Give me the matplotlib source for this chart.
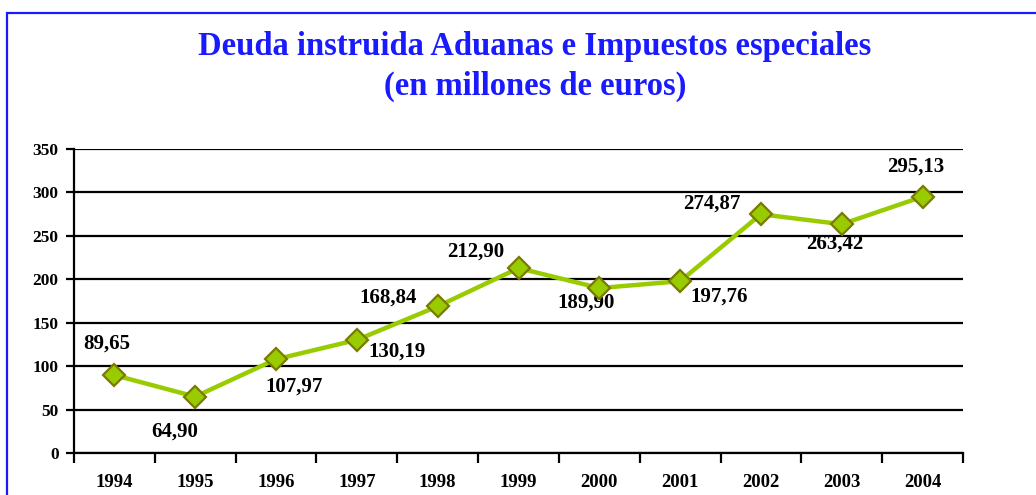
import matplotlib.pyplot as plt
from matplotlib.patches import Rectangle

years = ['1994', '1995', '1996', '1997', '1998', '1999', '2000', '2001', '2002', '2003', '2004']
deuda = [89.65, 64.90, 107.97, 130.19, 168.84, 212.90, 189.90, 197.76, 274.87, 263.42, 295.13]
# label offsets in pixels (dx, dy) relative to each point
offsets = [(-8, 32), (-21, -35), (18, -27), (40, -12), (-50, 9), (-43, 16),
           (-13, -15), (39, -15), (-49, 11), (-7, -19), (-7, 30)]

plt.rcParams['font.family'] = 'Liberation Serif'
plt.rcParams['font.weight'] = 'bold'

fig = plt.figure(figsize=(10.36, 4.95), dpi=100)
fig.patches.append(Rectangle((7 / 1036, -0.1), 1.2, (482 / 495) + 0.1, transform=fig.transFigure,
                             fill=False, edgecolor='#1a1aff', linewidth=1.6))

ax = fig.add_axes([74 / 1036, 42 / 495, 889 / 1036, 304 / 495])
x = list(range(len(years)))
ax.plot(x, deuda, '-', color='#99cc00', linewidth=3.2, zorder=3)
ax.plot(x, deuda, 'D', markersize=11, markerfacecolor='#99cc00',
        markeredgecolor='#7a7a00', markeredgewidth=1.6, zorder=5)

for xi, v, (dx, dy) in zip(x, deuda, offsets):
    ax.annotate(f'{v:.2f}'.replace('.', ','), (xi, v), xytext=(dx, dy),
                textcoords='offset pixels', ha='center', va='center',
                fontsize=15, fontweight='bold', zorder=4)

ax.set_xlim(-0.5, len(years) - 0.5)
ax.set_ylim(0, 350)
ax.set_yticks(range(0, 351, 50))
ax.set_xticks([i - 0.5 for i in range(len(years) + 1)], minor=False)
ax.set_xticklabels([])
ax.set_xticks(x, minor=True)
ax.set_xticklabels(years, minor=True)
ax.tick_params(axis='x', which='major', length=7, width=1.6, direction='out')
ax.tick_params(axis='x', which='minor', length=0, pad=15, labelsize=13.5)
ax.tick_params(axis='y', length=6, width=1.6, labelsize=12.5, pad=5)
for lab in ax.get_xticklabels(minor=True) + ax.get_yticklabels():
    lab.set_fontweight('bold')

ax.yaxis.grid(True, color='black', linewidth=1.6)
ax.set_axisbelow(True)
for s in ['top', 'right']:
    ax.spines[s].set_visible(False)
for s in ['left', 'bottom']:
    ax.spines[s].set_linewidth(1.6)

fig.text(535 / 1036, 1 - 46 / 495, 'Deuda instruida Aduanas e Impuestos especiales',
         ha='center', va='center', fontsize=23.5, fontweight='bold', color='#1a1aff')
fig.text(535 / 1036, 1 - 86 / 495, '(en millones de euros)',
         ha='center', va='center', fontsize=23.5, fontweight='bold', color='#1a1aff')

fig.savefig('out.png', dpi=100)
